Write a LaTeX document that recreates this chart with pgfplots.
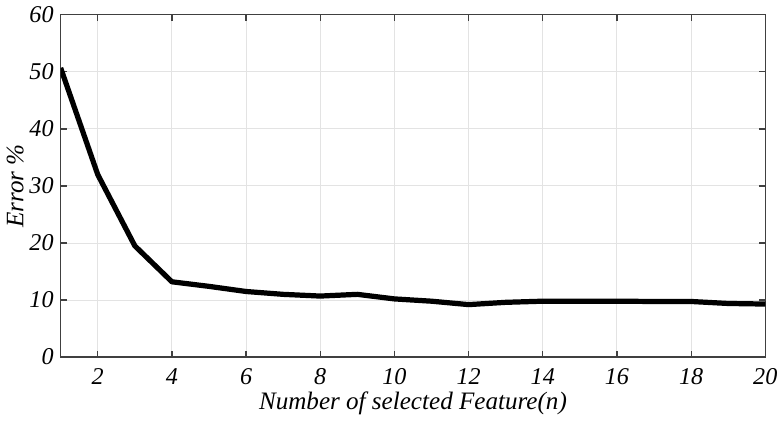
\documentclass[border=0pt]{standalone}
\usepackage{fontspec}
\setmainfont{Liberation Serif}
\usepackage{pgfplots}
\pgfplotsset{compat=1.18}
\begin{document}
\begin{tikzpicture}
\begin{axis}[
  scale only axis,
  width=351pt, height=170.5pt,
  xmin=1, xmax=20, ymin=0, ymax=60,
  xtick={2,4,...,20}, ytick={0,10,...,60},
  grid=major,
  major grid style={gray!22, line width=0.5pt},
  axis line style={black!75, line width=0.6pt},
  tick style={black!75, line width=0.6pt},
  major tick length=3pt,
  tick align=inside,
  tick pos=both,
  /pgf/number format/assume math mode=true,
  ticklabel style={font=\fontsize{12}{13}\selectfont\itshape},
  label style={font=\fontsize{12.5}{14}\selectfont\itshape},
  xlabel={Number of selected Feature(n)},
  ylabel={Error \%},
  xlabel style={yshift=3pt},
  ylabel style={yshift=-4pt},
  xticklabel style={yshift=-2pt},
]
\addplot[black, line width=2.6pt, line join=round] coordinates {
(1,50.7) (2,32.0) (3,19.5) (4,13.2) (5,12.4) (6,11.5) (7,11.0) (8,10.7) (9,11.0)
(10,10.2) (11,9.8) (12,9.2) (13,9.6) (14,9.8) (15,9.8) (16,9.8) (17,9.75) (18,9.75) (19,9.4) (20,9.3)
};
\end{axis}
\end{tikzpicture}
\end{document}
